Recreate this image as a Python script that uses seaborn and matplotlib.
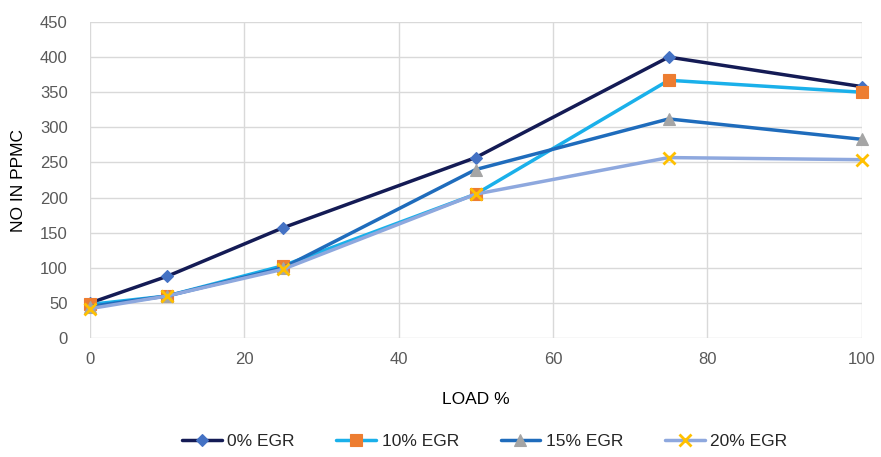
import matplotlib
matplotlib.use("Agg")
import matplotlib.pyplot as plt
import seaborn as sns
import pandas as pd

load = [0, 10, 25, 50, 75, 100]
egr0 = [50, 88, 157, 257, 400, 358]
egr10 = [48, 60, 103, 205, 367, 350]
egr15 = [45, 60, 100, 240, 312, 283]
egr20 = [42, 60, 98, 205, 257, 254]
series_names = ["0% EGR", "10% EGR", "15% EGR", "20% EGR"]
x_ticks = [0, 20, 40, 60, 80, 100]
y_ticks = [0, 50, 100, 150, 200, 250, 300, 350, 400, 450]

sns.set_theme(style="white")
plt.rcParams["font.family"] = ["Liberation Sans", "DejaVu Sans"]

fig = plt.figure(figsize=(8.81, 4.57), dpi=100)
ax = fig.add_axes([0.102, 0.260, 0.876, 0.692])

styles = [
    dict(color="#141b55", marker="D", mfc="#4472c4", mec="#4472c4", ms=6),
    dict(color="#1ab0ea", marker="s", mfc="#ed7d31", mec="#ed7d31", ms=9),
    dict(color="#1f6cbc", marker="^", mfc="#a5a5a5", mec="#a5a5a5", ms=8),
    dict(color="#8ea8de", marker="x", mfc="#ffc000", mec="#ffc000", ms=8),
]
data = [egr0, egr10, egr15, egr20]
for name, vals, st in zip(series_names, data, styles):
    df = pd.DataFrame({"load": load, "no": vals})
    sns.lineplot(data=df, x="load", y="no", ax=ax, label=name,
                 color=st["color"], marker=st["marker"], markersize=st["ms"],
                 markerfacecolor=st["mfc"], markeredgecolor=st["mec"],
                 markeredgewidth=2 if st["marker"] == "x" else 0.8,
                 linewidth=2.5, clip_on=False)

ax.set_xlim(0, 100)
ax.set_ylim(0, 450)
ax.set_xticks(x_ticks)
ax.set_yticks(y_ticks)
ax.grid(True, color="#d9d9d9", linewidth=1)
for s in ax.spines.values():
    s.set_visible(False)
ax.tick_params(axis="both", colors="#595959", labelsize=12, length=0)
ax.tick_params(axis="y", pad=16)
ax.tick_params(axis="x", pad=10)
ax.set_xlabel("LOAD %", fontsize=12.5, color="#000000", labelpad=18)
ax.set_ylabel("NO IN PPMC", fontsize=12.5, color="#000000", labelpad=10)

handles, labels = ax.get_legend_handles_labels()
ax.get_legend().remove()
fig.legend(handles, labels, loc="center", bbox_to_anchor=(0.55, 0.035), ncol=4,
           frameon=False, fontsize=12.5, handlelength=2.3, handletextpad=0.3,
           columnspacing=2.4)

fig.savefig("out.png", dpi=100)
